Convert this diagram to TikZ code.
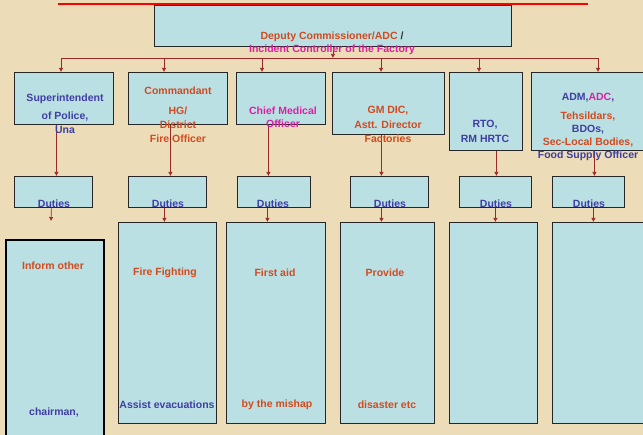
\documentclass[tikz,border=0pt]{standalone}
\usepackage{fontspec}
\setmainfont{Liberation Sans}
\usetikzlibrary{arrows.meta,positioning}
\definecolor{bgcol}{RGB}{236,221,184}
\definecolor{boxcol}{RGB}{187,224,227}
\definecolor{txtred}{RGB}{210,74,30}
\definecolor{txtblue}{RGB}{62,62,165}
\definecolor{txtpink}{RGB}{222,30,165}
\definecolor{linecol}{RGB}{155,40,40}

\tikzset{
  box/.style={draw=black!85,line width=0.8pt,fill=boxcol,inner sep=0pt,anchor=north west},
  lbl/.style={font=\bfseries\fontsize{10.5}{14}\selectfont,inner sep=0pt,align=center},
  link/.style={linecol,line width=0.7pt,-{Latex[length=4pt,width=4.5pt]}},
}

\begin{document}
\begin{tikzpicture}[x=1pt,y=-1pt]
  \fill[bgcol](0,0) rectangle (643,435);
  \clip(0,0) rectangle (643,435);
  \draw[red,line width=1.6pt](58,4)--(588,4);

  % top box
  \node[box,minimum width=357pt,minimum height=41pt](dc) at (154,5){};

  % officers
  \node[box,minimum width=99pt,minimum height=52pt](sp) at (14,72){};
  \node[box,minimum width=99pt,minimum height=52pt](cm) at (128,72){};
  \node[box,minimum width=89pt,minimum height=52pt](cmo) at (236,72){};
  \node[box,minimum width=112pt,minimum height=62pt](gm) at (332,72){};
  \node[box,minimum width=73pt,minimum height=78pt](rto) at (449,72){};
  \node[box,minimum width=130pt,minimum height=78pt](adm) at (531,72){};

  % duties
  \node[box,minimum width=78pt,minimum height=31pt](d1) at (14,176){};
  \node[box,minimum width=78pt,minimum height=31pt](d2) at (128,176){};
  \node[box,minimum width=73pt,minimum height=31pt](d3) at (237,176){};
  \node[box,minimum width=78pt,minimum height=31pt](d4) at (350,176){};
  \node[box,minimum width=72pt,minimum height=31pt](d5) at (459,176){};
  \node[box,minimum width=72pt,minimum height=31pt](d6) at (552,176){};

  % work lists
  \node[box,draw=black,line width=2pt,minimum width=98pt,minimum height=210pt](w1) at (5,239){};
  \node[box,minimum width=98pt,minimum height=201pt](w2) at (118,222){};
  \node[box,minimum width=99pt,minimum height=201pt](w3) at (226,222){};
  \node[box,minimum width=94pt,minimum height=201pt](w4) at (340,222){};
  \node[box,minimum width=88pt,minimum height=201pt](w5) at (449,222){};
  \node[box,minimum width=110pt,minimum height=201pt](w6) at (552,222){};

  % bus
  \coordinate(bus) at (330,58);
  \coordinate(b1) at (61,58);
  \coordinate(b2) at (164,58);
  \coordinate(b3) at (262,58);
  \coordinate(b4) at (381,58);
  \coordinate(b5) at (479,58);
  \coordinate(b6) at (598,58);
  \draw[linecol,line width=0.8pt](b1)--(b6);
  \draw[link](dc.south)--(dc.south |- bus);
  \draw[link](b1)--(b1 |- sp.north);
  \draw[link](b2)--(b2 |- cm.north);
  \draw[link](b3)--(b3 |- cmo.north);
  \draw[link](b4)--(b4 |- gm.north);
  \draw[link](b5)--(b5 |- rto.north);
  \draw[link](b6)--(b6 |- adm.north);

  \draw[link]([xshift=-7.5pt]sp.south)--([xshift=-7.5pt]sp.south |- d1.north);
  \draw[link]([xshift=-7.5pt]cm.south)--([xshift=-7.5pt]cm.south |- d2.north);
  \draw[link]([xshift=-12.5pt]cmo.south)--([xshift=-12.5pt]cmo.south |- d3.north);
  \draw[link]([xshift=-7pt]gm.south)--([xshift=-7pt]gm.south |- d4.north);
  \draw[link]([xshift=10.5pt]rto.south)--([xshift=10.5pt]rto.south |- d5.north);
  \draw[link]([xshift=-2pt]adm.south)--([xshift=-2pt]adm.south |- d6.north);

  \coordinate(e1) at (51,221);
  \draw[link]([xshift=-2pt]d1.south)--(e1);
  \draw[link]([xshift=-3pt]d2.south)--([xshift=-3pt]d2.south |- w2.north);
  \draw[link]([xshift=-6.5pt]d3.south)--([xshift=-6.5pt]d3.south |- w3.north);
  \draw[link]([xshift=-8pt]d4.south)--([xshift=-8pt]d4.south |- w4.north);
  \draw[link](d5.south)--(d5.south |- w5.north);
  \draw[link]([xshift=5pt]d6.south)--([xshift=5pt]d6.south |- w6.north);

  % labels
  \node[lbl,font=\bfseries\fontsize{10.5}{13}\selectfont](dct) at (332,43.5)
    {{\color{txtred}Deputy Commissioner/ADC} {\color{black!80}/}\\
     {\color{txtpink}Incident Controller of the Factory}};
  \node[lbl,txtblue](spt) at (65,114){Superintendent\\[4pt]of Police,\\Una};
  \node[lbl,txtred](cmt) at (178,115){Commandant\\[6pt]HG/\\District\\Fire Officer};
  \node[lbl,txtpink,font=\bfseries\fontsize{10.5}{13.5}\selectfont](cmot) at (283,117.5){Chief Medical\\Officer};
  \node[lbl,txtred,font=\bfseries\fontsize{10.5}{14.5}\selectfont](gmt) at (388,124.5){GM DIC,\\Astt. Director\\Factories};
  \node[lbl,txtblue,font=\bfseries\fontsize{10.5}{15}\selectfont](rtot) at (485,131.5){RTO,\\RM HRTC};
  \node[lbl,font=\bfseries\fontsize{10.5}{13}\selectfont](admt) at (588,127)
    {{\color{txtblue}ADM,}{\color{txtpink}ADC}{\color{txtblue},}\\[6pt]
     {\color{txtred}Tehsildars,}\\
     {\color{txtblue}BDOs,}\\
     {\color{txtred}Sec-Local Bodies,}\\
     {\color{txtblue}Food Supply Officer}};

  \node[lbl,txtblue](d1t) at (54,204){Duties};
  \node[lbl,txtblue](d2t) at (168,204){Duties};
  \node[lbl,txtblue](d3t) at (273,204){Duties};
  \node[lbl,txtblue](d4t) at (390,204){Duties};
  \node[lbl,txtblue](d5t) at (496,204){Duties};
  \node[lbl,txtblue](d6t) at (589,204){Duties};

  \node[lbl,txtred](w1a) at (53,266){Inform other};
  \node[lbl,txtblue](w1b) at (54,413){chairman,};
  \node[lbl,txtred](w2a) at (165,273){Fire Fighting};
  \node[lbl,txtblue](w2b) at (167,405){Assist evacuations};
  \node[lbl,txtred](w3a) at (275,273){First aid};
  \node[lbl,txtred](w3b) at (277,405){by the mishap};
  \node[lbl,txtred](w4a) at (385,273){Provide};
  \node[lbl,txtred](w4b) at (387,405){disaster etc};
\end{tikzpicture}
\end{document}
